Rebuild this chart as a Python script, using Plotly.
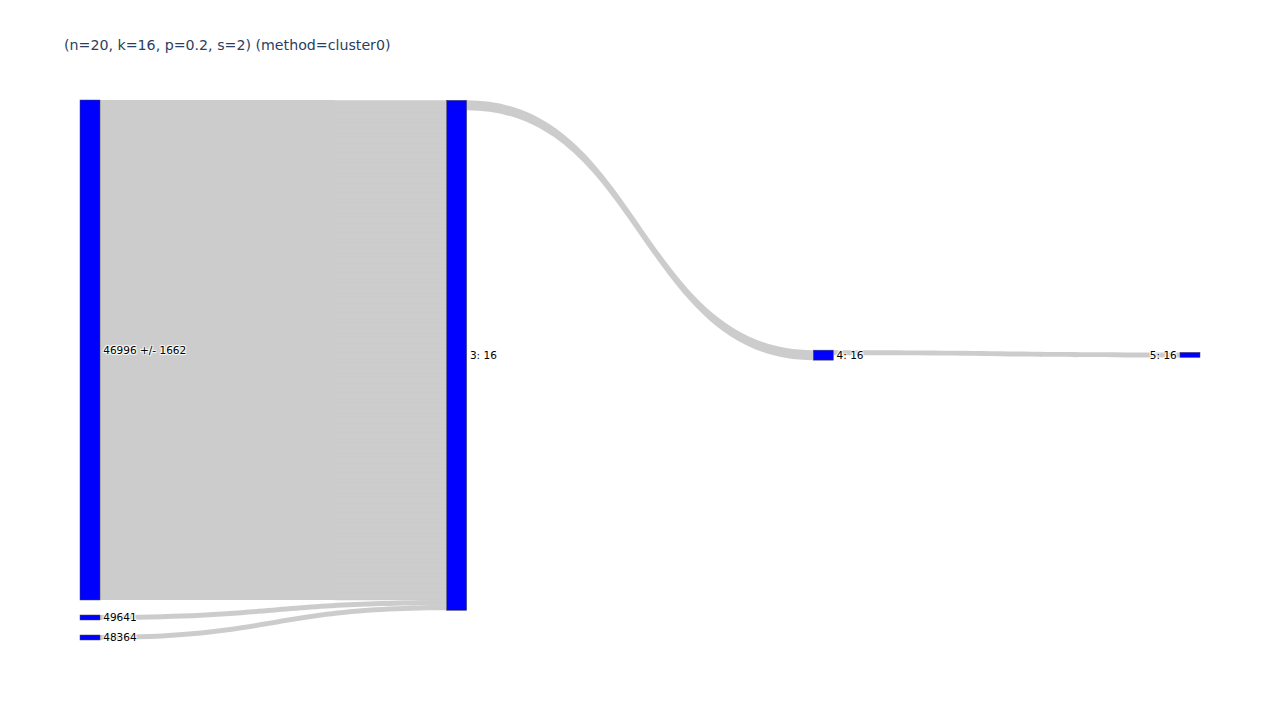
import plotly.graph_objects as go

title_text = "(n=20, k=16, p=0.2, s=2) (method=cluster0)"
node_labels = ["46996 +/- 1662", "49641", "48364", "3: 16", "4: 16", "5: 16"]
node_colors = ["blue"] * 6

# links: many unit links from the big cluster node to node "3: 16"
big_count = 100
link_sources = [0] * big_count + [1, 2, 3, 4]
link_targets = [3] * big_count + [3, 3, 4, 5]
link_values = [1] * big_count + [1, 1, 2, 1]

fig = go.Figure(go.Sankey(
    node=dict(
        label=node_labels,
        color=node_colors,
        pad=15,
        thickness=20,
    ),
    link=dict(
        source=link_sources,
        target=link_targets,
        value=link_values,
    ),
    textfont=dict(family="Verdana, DejaVu Sans, sans-serif", size=10.5, color="black"),
))

fig.update_layout(
    title=dict(text=title_text, font=dict(family="Verdana, DejaVu Sans, sans-serif", size=14.2, color="#2a3f5f")),
    width=1280,
    height=720,
    margin=dict(l=80, r=80, t=100, b=80),
    paper_bgcolor="white",
    font=dict(family="Verdana, DejaVu Sans, sans-serif"),
)

fig.write_html("out.html")
